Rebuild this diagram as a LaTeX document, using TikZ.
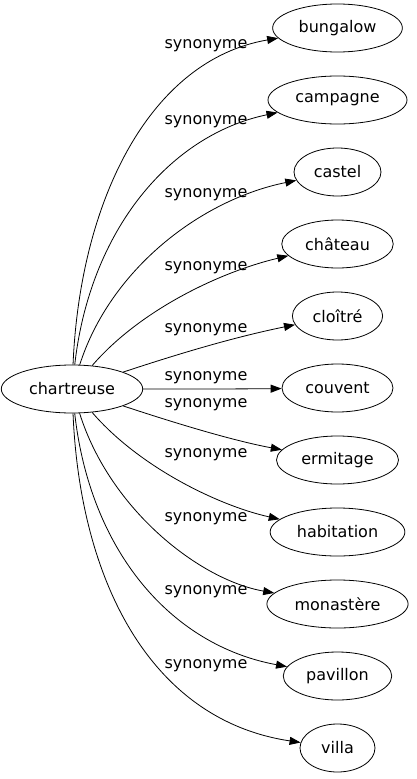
\documentclass[tikz,border=0pt]{standalone}
\usepackage{fontspec}
\setmainfont{DejaVu Sans}
\usetikzlibrary{arrows.meta, shapes.geometric}

\begin{document}
\begin{tikzpicture}[
    x=1pt, y=-1pt,
    every node/.style={font=\fontsize{16}{19}\selectfont},
    >={Triangle[length=11pt, width=8pt]},
    word/.style={ellipse, draw, line width=0.8pt, inner xsep=7pt,
                 minimum height=48pt, minimum width=75pt},
    rel/.style={->, line width=0.8pt},
    rellabel/.style={inner sep=0pt},
]
\useasboundingbox (0,0) rectangle (416,779);

% === Source word ===
\node[word] (chartreuse) at (72,389) {chartreuse};

% === Synonyms (one column on the right) ===
\def\colX{337.5}    % column centre
\def\rowY{72}       % row spacing
\foreach \name/\txt [count=\i from 0] in {bungalow/bungalow, campagne/campagne,
    castel/castel, chateau/château, cloitre/cloîtré, couvent/couvent,
    ermitage/ermitage, habitation/habitation, monastere/monastère,
    pavillon/pavillon, villa/villa}
    \node[word] (\name) at (\colX, {28+\rowY*\i}) {\txt};

% === Relations: curve out of the source, label beside it ===
\foreach \name/\ax/\ay/\bx/\by/\ly in {
    bungalow/80/200/150/60/46,
    campagne/90/230/170/135/122,
    castel/110/270/200/200/195,
    chateau/140/310/220/272/268,
    cloitre/190/350/240/336/330,
    couvent/180/389/240/389/378,
    ermitage/190/428/240/442/405,
    habitation/140/468/220/506/455,
    monastere/110/510/200/580/519,
    pavillon/90/550/170/645/592,
    villa/80/580/150/720/666} {
    \draw[rel] (chartreuse) .. controls (\ax,\ay) and (\bx,\by) .. (\name);
    \node[rellabel] (lab-\name) at (206,\ly) {synonyme};
}

\end{tikzpicture}
\end{document}
